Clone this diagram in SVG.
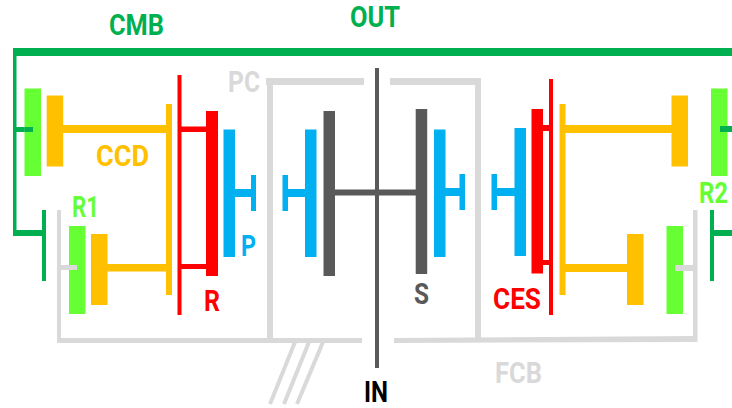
<svg xmlns="http://www.w3.org/2000/svg" width="732" height="408" viewBox="0 0 732 408">
<style>
.lime{fill:#66ff33}.org{fill:#ffc000}.blu{fill:#00b0f0}.red{fill:#ff0000}.gry{fill:#d9d9d9}.drk{fill:#595959}.grn{fill:#00b050}
.sg{stroke:#d9d9d9;stroke-width:4;fill:none}
text{font-family:"Roboto","Liberation Sans",sans-serif;font-weight:700;font-size:30px}
</style>
<rect width="732" height="408" fill="#ffffff"/>
<g id="connectors">
<g id="cmb-link">
<rect class="grn" x="13" y="48" width="719" height="8"/>
<rect class="grn" x="13" y="48" width="3.500" height="188"/>
<rect class="grn" x="13" y="230" width="30" height="6"/>
<rect class="grn" x="16" y="127" width="17" height="5"/>
<rect class="grn" x="714" y="230" width="18" height="6"/>
<rect class="grn" x="720" y="126" width="12" height="6"/>
</g>
<g id="fcb-link">
<rect class="gry" x="57" y="210" width="4" height="133"/>
<rect class="gry" x="60" y="265" width="17" height="5"/>
<rect class="gry" x="57" y="338" width="305" height="5"/>
<path class="gry" d="M394 338L697 336V342L394 343Z"/>
<rect class="gry" x="693" y="210" width="4.500" height="132"/>
<rect class="gry" x="675" y="265" width="19" height="6"/>
<path class="sg" d="M295 342L270 404M309 342L284 404M323 342L297 404"/>
</g>
<g id="pc-link">
<rect class="gry" x="266" y="78" width="98" height="7"/>
<rect class="gry" x="390" y="78" width="90" height="7"/>
<rect class="gry" x="267" y="78" width="6" height="262"/>
<rect class="gry" x="475" y="78" width="6" height="262"/>
</g>
<g id="ccd-link">
<rect class="org" x="63" y="125" width="104" height="8"/>
<rect class="org" x="107" y="264" width="60" height="7.500"/>
<rect class="org" x="565" y="125" width="107" height="8"/>
<rect class="org" x="565" y="264" width="63" height="8"/>
</g>
<g id="r-link">
<rect class="red" x="181" y="126.500" width="26" height="5.500"/>
<rect class="red" x="181" y="264" width="26" height="5"/>
<rect class="red" x="543" y="125" width="7" height="6"/>
<rect class="red" x="543" y="260" width="7" height="5"/>
</g>
<g id="p-link">
<rect class="blu" x="235" y="189" width="17" height="8"/>
<rect class="blu" x="287" y="189" width="19" height="8"/>
<rect class="blu" x="445" y="188" width="15" height="8"/>
<rect class="blu" x="496" y="188" width="19" height="8"/>
</g>
<g id="s-link">
<rect class="drk" x="335" y="189.500" width="81" height="6"/>
</g>
</g>
<g id="shaft"><rect class="drk" x="375" y="68" width="4" height="300"/></g>
<g id="R1-left"><rect class="lime" x="24.500" y="88.500" width="16.500" height="87.500"/><rect class="grn" x="24.500" y="127" width="8.500" height="5"/></g>
<g id="CCD-left-a"><rect class="org" x="46.700" y="95.500" width="16.500" height="71"/></g>
<g id="CCD-left-hub"><rect class="org" x="166" y="104" width="6" height="191"/></g>
<g id="R-left-hub"><rect class="red" x="177.500" y="75" width="4" height="240"/></g>
<g id="R-left"><rect class="red" x="206" y="111" width="12" height="165"/></g>
<g id="P-a"><rect class="blu" x="223.500" y="129.500" width="11.500" height="127.500"/><rect class="blu" x="251" y="175" width="5" height="36"/></g>
<g id="CMB-left"><rect class="grn" x="42" y="210" width="4" height="71"/></g>
<g id="R1"><rect class="lime" x="69" y="226" width="16.500" height="88"/><rect class="gry" x="69" y="265" width="8" height="5"/></g>
<g id="CCD-left-b"><rect class="org" x="91" y="234" width="16.500" height="71"/></g>
<g id="P-b"><rect class="blu" x="305" y="129.500" width="11.500" height="127.500"/><rect class="blu" x="282.500" y="175" width="5.500" height="36"/></g>
<g id="S-left"><rect class="drk" x="323.500" y="111" width="11.500" height="165"/></g>
<g id="S-right"><rect class="drk" x="415.700" y="109" width="11.500" height="165"/></g>
<g id="P-c"><rect class="blu" x="434" y="129.500" width="11.500" height="127.500"/><rect class="blu" x="459.500" y="174" width="5.500" height="36"/></g>
<g id="P-d"><rect class="blu" x="514.500" y="128" width="11.500" height="128"/><rect class="blu" x="491.500" y="174" width="5.500" height="36"/></g>
<g id="CES"><rect class="red" x="531.500" y="109" width="11.500" height="164.500"/></g>
<g id="CES-hub"><rect class="red" x="549" y="79" width="4" height="236"/></g>
<g id="CCD-right-hub"><rect class="org" x="559.500" y="104" width="6" height="191"/></g>
<g id="CCD-right-a"><rect class="org" x="671.500" y="95.500" width="16.500" height="71"/></g>
<g id="R2-right"><rect class="lime" x="711" y="88.500" width="16.500" height="87.500"/><rect class="grn" x="720" y="126" width="12" height="6"/></g>
<g id="CCD-right-b"><rect class="org" x="627" y="234" width="16.500" height="71"/></g>
<g id="R2"><rect class="lime" x="666.500" y="226" width="16.500" height="88"/><rect class="gry" x="675" y="265" width="8" height="6"/></g>
<g id="CMB-right"><rect class="grn" x="710" y="210" width="4" height="71"/></g>
<g id="labels">
<text x="109" y="35" textLength="55" lengthAdjust="spacingAndGlyphs" fill="#00b050">CMB</text>
<text x="350" y="27" textLength="50" lengthAdjust="spacingAndGlyphs" fill="#00b050">OUT</text>
<text x="228" y="92" textLength="32" lengthAdjust="spacingAndGlyphs" fill="#d9d9d9">PC</text>
<text x="96" y="166" textLength="53" lengthAdjust="spacingAndGlyphs" fill="#ffc000">CCD</text>
<text x="72" y="217" textLength="27" lengthAdjust="spacingAndGlyphs" fill="#66ff33">R1</text>
<text x="241" y="256" textLength="15" lengthAdjust="spacingAndGlyphs" fill="#00b0f0">P</text>
<text x="204" y="311" textLength="16" lengthAdjust="spacingAndGlyphs" fill="#ff0000">R</text>
<text x="414" y="304" textLength="15" lengthAdjust="spacingAndGlyphs" fill="#595959">S</text>
<text x="493" y="309" textLength="48" lengthAdjust="spacingAndGlyphs" fill="#ff0000">CES</text>
<text x="364" y="402" textLength="24" lengthAdjust="spacingAndGlyphs" fill="#000000" style="font-size:29px">IN</text>
<text x="495" y="383" textLength="47" lengthAdjust="spacingAndGlyphs" fill="#d9d9d9">FCB</text>
<text transform="translate(699 203) scale(.8 1)" fill="#66ff33">R2</text>
</g>
</svg>
